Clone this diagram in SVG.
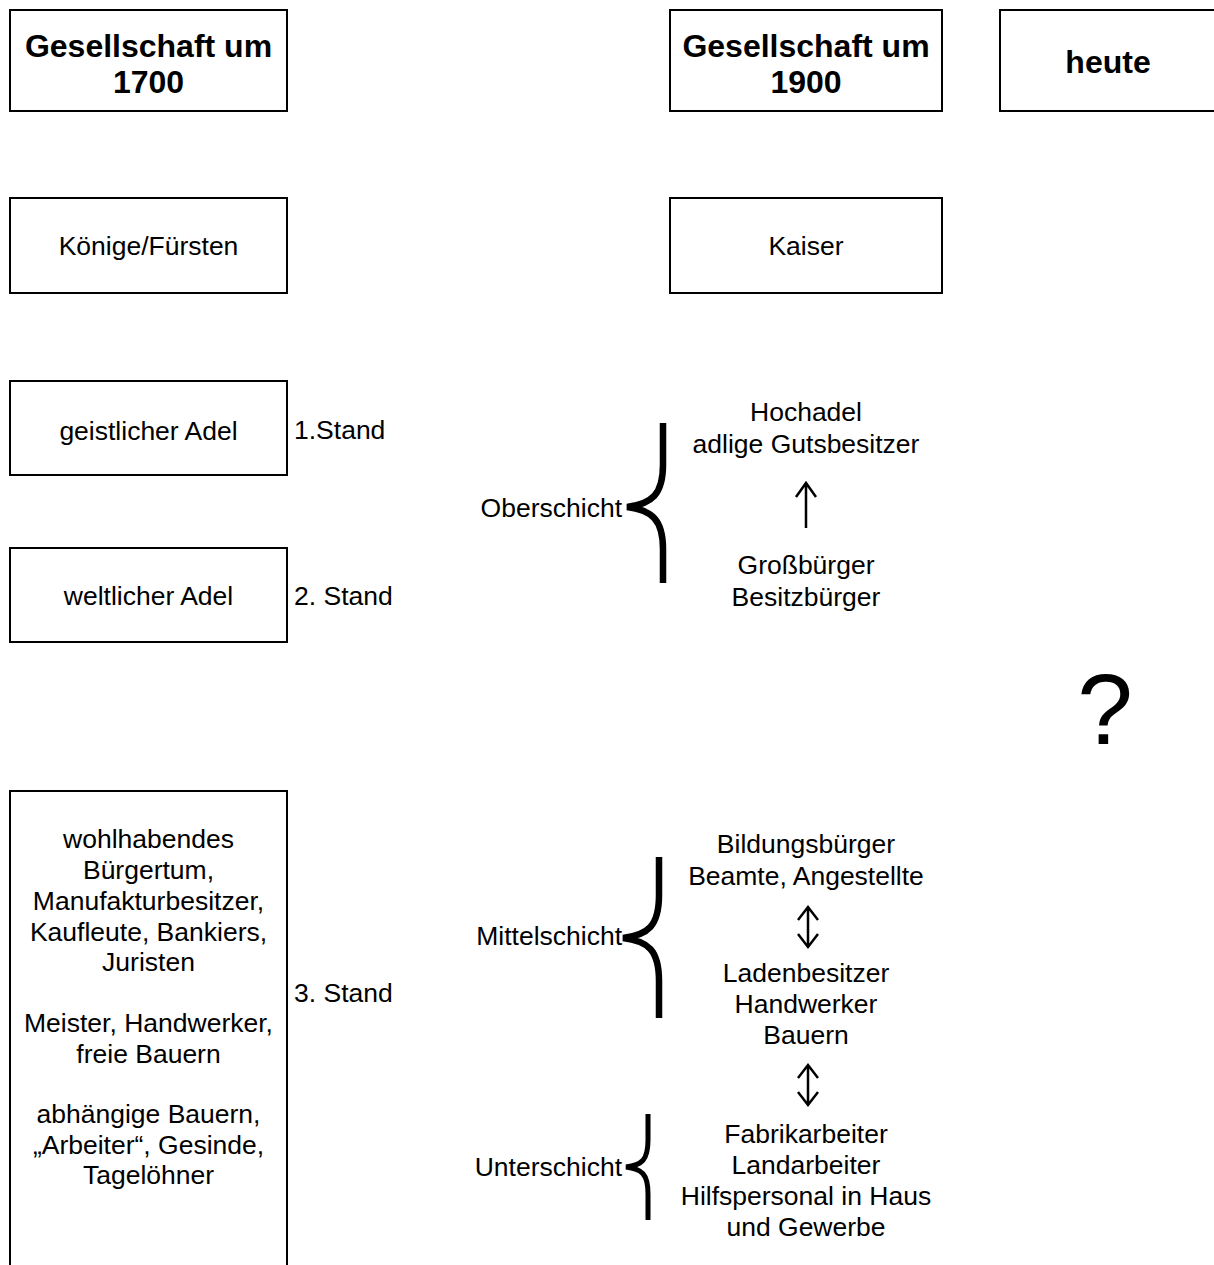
<svg xmlns="http://www.w3.org/2000/svg" width="1214" height="1265" viewBox="0 0 1214 1265">
<style>
.box{fill:#fff;stroke:#000;stroke-width:2}
text{font-family:"Liberation Sans",Arial,sans-serif;fill:#000}
.t{font-size:26.5px;text-anchor:middle}
.l{font-size:26.5px}
.r{font-size:26.5px;text-anchor:end}
.b{font-size:32px;font-weight:bold;text-anchor:middle}
.brace{fill:none;stroke:#000;stroke-linecap:butt}
.arr{fill:none;stroke:#000;stroke-width:2.5}
</style>
<rect width="1214" height="1265" fill="#fff"/>
<g id="n1700">
<rect class="box" x="10" y="10" width="277" height="101"/>
<text class="b" x="148.5" y="57">Gesellschaft um</text>
<text class="b" x="148.5" y="93">1700</text>
</g>
<g id="n1900">
<rect class="box" x="670" y="10" width="272" height="101"/>
<text class="b" x="806" y="57">Gesellschaft um</text>
<text class="b" x="806" y="93">1900</text>
</g>
<g id="nheute">
<rect class="box" x="1000" y="10" width="230" height="101"/>
<text class="b" x="1108" y="73">heute</text>
</g>
<g id="nkoenige">
<rect class="box" x="10" y="198" width="277" height="95"/>
<text class="t" x="148.5" y="255">Könige/Fürsten</text>
</g>
<g id="nkaiser">
<rect class="box" x="670" y="198" width="272" height="95"/>
<text class="t" x="806" y="255">Kaiser</text>
</g>
<g id="ngeistlich">
<rect class="box" x="10" y="381" width="277" height="94"/>
<text class="t" x="148.5" y="440">geistlicher Adel</text>
</g>
<text class="l" x="294" y="439">1.Stand</text>
<g id="nweltlich">
<rect class="box" x="10" y="548" width="277" height="94"/>
<text class="t" x="148.5" y="605">weltlicher Adel</text>
</g>
<text class="l" x="294" y="605">2. Stand</text>
<g id="ndritter">
<rect class="box" x="10" y="791" width="277" height="500"/>
<text class="t" x="148.5" y="848">wohlhabendes</text>
<text class="t" x="148.5" y="879">Bürgertum,</text>
<text class="t" x="148.5" y="910">Manufakturbesitzer,</text>
<text class="t" x="148.5" y="941">Kaufleute, Bankiers,</text>
<text class="t" x="148.5" y="971">Juristen</text>
<text class="t" x="148.5" y="1032">Meister, Handwerker,</text>
<text class="t" x="148.5" y="1063">freie Bauern</text>
<text class="t" x="148.5" y="1123">abhängige Bauern,</text>
<text class="t" x="148.5" y="1154">„Arbeiter“, Gesinde,</text>
<text class="t" x="148.5" y="1184">Tagelöhner</text>
</g>
<text class="l" x="294" y="1002">3. Stand</text>
<g id="oberschicht">
<text class="r" x="622" y="517">Oberschicht</text>
<text class="t" x="806" y="421">Hochadel</text>
<text class="t" x="806" y="453">adlige Gutsbesitzer</text>
<text class="t" x="806" y="574">Großbürger</text>
<text class="t" x="806" y="606">Besitzbürger</text>
</g>
<g id="mittelschicht">
<text class="r" x="622" y="945">Mittelschicht</text>
<text class="t" x="806" y="853">Bildungsbürger</text>
<text class="t" x="806" y="885">Beamte, Angestellte</text>
<text class="t" x="806" y="982">Ladenbesitzer</text>
<text class="t" x="806" y="1013">Handwerker</text>
<text class="t" x="806" y="1044">Bauern</text>
</g>
<g id="unterschicht">
<text class="r" x="622" y="1176">Unterschicht</text>
<text class="t" x="806" y="1143">Fabrikarbeiter</text>
<text class="t" x="806" y="1174">Landarbeiter</text>
<text class="t" x="806" y="1205">Hilfspersonal in Haus</text>
<text class="t" x="806" y="1236">und Gewerbe</text>
</g>
<text x="1105" y="744" style="font-size:100px;text-anchor:middle">?</text>
<g id="connectors">
<path class="brace" stroke-width="6.5" d="M663,423 L663,465 C663,494 652,504 627,507 C652,510 663,520 663,549 L663,583"/>
<path class="brace" stroke-width="6.5" d="M659,857 L659,895 C659,926 648,935 623,938 C648,941 659,950 659,981 L659,1018"/>
<path class="brace" stroke-width="5" d="M648,1114 L648,1140 C648,1160 642,1165 626,1167 C642,1169 648,1174 648,1194 L648,1220"/>
<path class="arr" d="M806,528 L806,483 M796,497 L806,483 L816,497"/>
<path class="arr" d="M808,947 L808,907 M798,920 L808,907 L818,920 M798,934 L808,947 L818,934"/>
<path class="arr" d="M808,1105 L808,1065 M798,1078 L808,1065 L818,1078 M798,1092 L808,1105 L818,1092"/>
</g>
</svg>
